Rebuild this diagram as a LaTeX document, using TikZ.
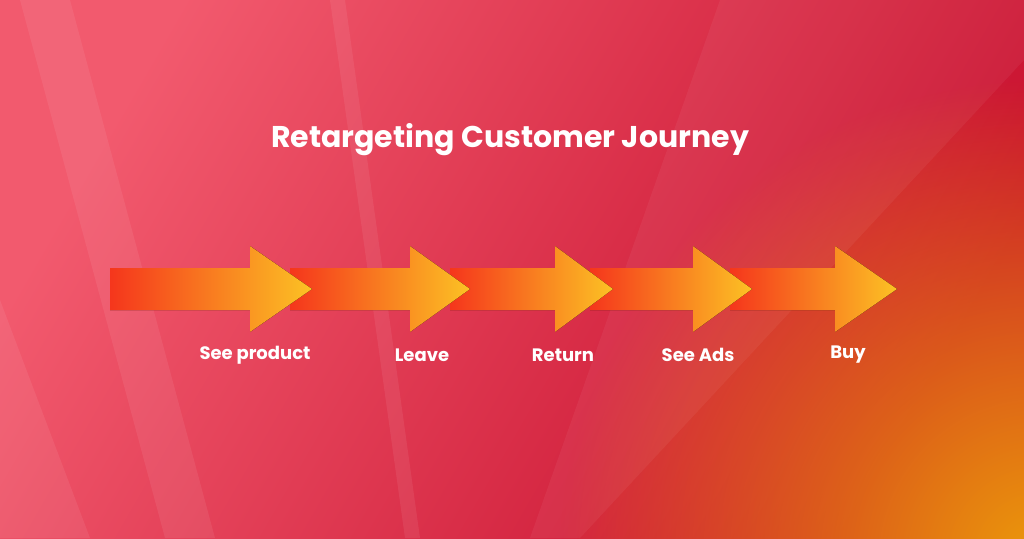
\documentclass[tikz,border=0pt]{standalone}
\usepackage{fontspec}
\setmainfont{Poppins}
\usetikzlibrary{positioning,fadings}
\definecolor{bgpink}{HTML}{F25A6E}
\definecolor{bgred}{HTML}{C8102E}
\definecolor{bgorange}{HTML}{EC9A0A}
\definecolor{arrred}{HTML}{F5361C}
\definecolor{arryellow}{HTML}{FCC224}
\tikzfading[name=glow, inner color=transparent!0, outer color=transparent!100]
\tikzset{
  label/.style={text=white, font=\fontsize{18}{21}\selectfont\bfseries},
  stripe/.style={fill=white, fill opacity=0.07},
  arr/.style={left color=arrred, right color=arryellow, draw=none}
}
\begin{document}
\begin{tikzpicture}[x=1pt,y=-1pt]
\useasboundingbox (0,0) rectangle (1024,538);
% background
\fill[left color=bgpink, right color=bgred, shading angle=60] (0,0) rectangle (1024,538);
\begin{scope}
\clip (0,0) rectangle (1024,538);
\fill[bgorange, path fading=glow] (1040,560) circle (480pt);
\fill[stripe] (20,0) -- (70,0) -- (215,538) -- (165,538) -- cycle;
\fill[stripe] (330,0) -- (345,0) -- (420,538) -- (405,538) -- cycle;
\fill[stripe] (0,300) -- (0,538) -- (90,538) -- cycle;
\fill[white, fill opacity=0.05] (720,0) -- (1024,0) -- (1024,60) -- (580,538) -- (530,538) -- cycle;
\end{scope}
% title
\node[label, font=\fontsize{30}{34}\selectfont\bfseries] (title) at (510,140) {Retargeting Customer Journey};
% arrows
\foreach \s/\h/\e in {730/835/897, 590/693/752, 450/555/613, 290/410/470, 110/250/312}{
  \fill[arr] (\s,268) -- (\h,268) -- (\h,246) -- (\e,289) -- (\h,332) -- (\h,310) -- (\s,310) -- cycle;
}
% labels
\node[label] (see) at (255,355) {See product};
\node[label] (leave) at (422,355) {Leave};
\node[label] (return) at (563,355) {Return};
\node[label] (ads) at (698,355) {See Ads};
\node[label] (buy) at (848,355) {Buy};
\end{tikzpicture}
\end{document}
